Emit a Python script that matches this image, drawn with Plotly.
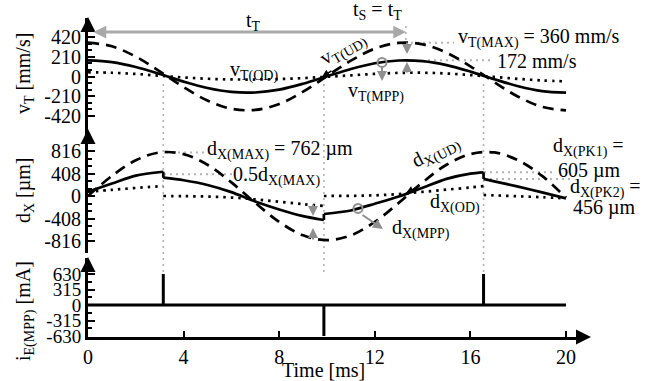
import plotly.graph_objects as go

# ---------------- data ----------------
t_v = list(range(0, 21))                      # ms
vT_UD = [360, 321, 211, 55, -113, -256, -343, -355, -292, -161, 4, 168, 296, 357, 342, 253, 108, -60, -215, -323, -360]
vT_MPP = [172, 153, 101, 26, -54, -122, -164, -170, -140, -77, 2, 80, 141, 170, 163, 121, 52, -29, -103, -155, -172]
vT_OD = [45, 40, 27, 8, -10, -24, -31, -32, -27, -17, -3, 12, 28, 38, 40, 32, 15, -5, -25, -42, -52]

t_dx = list(range(0, 21))
dX_UD = [0, 364, 647, 790, 760, 566, 247, -125, -470, -713, -800, -713, -470, -125, 247, 566, 760, 790, 647, 364, -30]

t_sw = [3.15, 9.87, 16.55]                    # switching instants (ms)
iE_peak = [630, -630, 630]                    # mA

t_seg_A = [0, 1, 2, 3.15]
dX_MPP_A = [78, 225, 370, 440]
dX_OD_A = [78, 112, 146, 181]
t_seg_B = [3.15, 4, 5, 6, 7, 8, 9, 9.87]
dX_MPP_B = [332, 285, 200, 70, -100, -245, -365, -435]
dX_OD_B = [0, -3, -10, -28, -62, -105, -148, -180]
t_seg_C = [9.87, 11, 12, 13, 14, 15, 16, 16.55]
dX_MPP_C = [-326, -262, -140, -10, 150, 310, 405, 430]
dX_OD_C = [0, 3, 12, 35, 75, 115, 155, 178]
t_seg_D = [16.55, 17, 18, 19, 20]
dX_MPP_D = [310, 265, 170, 65, -42]
dX_OD_D = [18, 12, -5, -22, -42]

vT_ticks = [-420, -210, 0, 210, 420]
dX_ticks = [-816, -408, 0, 408, 816]
iE_ticks = [-630, -315, 0, 315, 630]
t_ticks = [0, 4, 8, 12, 16, 20]
tS = 13.3

# ---------------- layout helpers ----------------
W, H = 662, 381
FONT = "Liberation Serif"
X0, XPX = 88, 23.9          # pixel of t=0, pixels per ms


def fx(px):
    return px / W


def fy(py):
    return 1 - py / H


def v_of(p):   # panel 1 pixel -> value
    return (76.5 - p) * 420 / 39.5


def d_of(p):   # panel 2 pixel -> value
    return (196 - p) * 816 / 45


def i_of(p):   # panel 3 pixel -> value
    return (305 - p) * 630 / 31


def t_of(px):
    return (px - X0) / XPX


def join(segs):
    xs, ys = [], []
    for tx, ty in segs:
        xs += list(tx) + [None]
        ys += list(ty) + [None]
    return xs, ys


fig = go.Figure()
BLK = "black"
LW = 2.7
DASH = "11px,7px"
DOT = "2.5px,5px"

# panel 1
fig.add_trace(go.Scatter(x=t_v, y=vT_UD, mode="lines", line=dict(color=BLK, width=LW, dash=DASH, shape="spline"), xaxis="x", yaxis="y"))
fig.add_trace(go.Scatter(x=t_v, y=vT_OD, mode="lines", line=dict(color=BLK, width=LW, dash=DOT, shape="spline"), xaxis="x", yaxis="y"))
fig.add_trace(go.Scatter(x=t_v, y=vT_MPP, mode="lines", line=dict(color=BLK, width=LW, shape="spline"), xaxis="x", yaxis="y"))

# panel 2
fig.add_trace(go.Scatter(x=t_dx, y=dX_UD, mode="lines", line=dict(color=BLK, width=LW, dash=DASH, shape="spline"), xaxis="x2", yaxis="y2"))
ox, oy = join([(t_seg_A, dX_OD_A), (t_seg_B, dX_OD_B), (t_seg_C, dX_OD_C), (t_seg_D, dX_OD_D)])
fig.add_trace(go.Scatter(x=ox, y=oy, mode="lines", line=dict(color=BLK, width=LW, dash=DOT, shape="spline"), connectgaps=False, xaxis="x2", yaxis="y2"))
mx, my = join([(t_seg_A, dX_MPP_A), (t_seg_B, dX_MPP_B), (t_seg_C, dX_MPP_C), (t_seg_D, dX_MPP_D)])
fig.add_trace(go.Scatter(x=mx, y=my, mode="lines", line=dict(color=BLK, width=LW, shape="spline", smoothing=0.8), connectgaps=False, xaxis="x2", yaxis="y2"))
segs_mpp = [dX_MPP_A, dX_MPP_B, dX_MPP_C, dX_MPP_D]
cx, cy = [], []
for k, ts in enumerate(t_sw):
    cx += [ts, ts, None]
    cy += [segs_mpp[k][-1], segs_mpp[k + 1][0], None]
fig.add_trace(go.Scatter(x=cx, y=cy, mode="lines", line=dict(color=BLK, width=LW), xaxis="x2", yaxis="y2"))

# panel 3
ix, iy = [0], [0]
for ts, pk in zip(t_sw, iE_peak):
    ix += [ts, ts, ts]
    iy += [0, pk, 0]
ix.append(20)
iy.append(0)
fig.add_trace(go.Scatter(x=ix, y=iy, mode="lines", line=dict(color=BLK, width=3), xaxis="x3", yaxis="y3"))


# circle markers on the MPP curves
def interp(x, xs, ys):
    for a in range(len(xs) - 1):
        if xs[a] <= x <= xs[a + 1]:
            f = (x - xs[a]) / (xs[a + 1] - xs[a])
            return ys[a] + f * (ys[a + 1] - ys[a])
    return ys[-1]


GRAY = "#8f8f8f"
tc1 = t_of(382)
fig.add_trace(go.Scatter(x=[tc1], y=[interp(tc1, t_v, vT_MPP)], mode="markers",
                         marker=dict(size=9, color="rgba(0,0,0,0)", line=dict(color=GRAY, width=2)), xaxis="x", yaxis="y"))
tc2 = t_of(358)
fig.add_trace(go.Scatter(x=[tc2], y=[interp(tc2, t_seg_C, dX_MPP_C)], mode="markers",
                         marker=dict(size=9, color="rgba(0,0,0,0)", line=dict(color=GRAY, width=2)), xaxis="x2", yaxis="y2"))

xr = [0, t_of(582)]
xdom = [fx(X0), fx(582)]
tickfont = dict(family=FONT, size=20, color=BLK)


def yax(dom, rng, ticks, minor):
    return dict(domain=dom, range=rng, tickvals=ticks, ticktext=[str(v) for v in ticks], showline=True,
                linecolor=BLK, linewidth=3, ticks="inside", ticklen=7, tickwidth=2, tickcolor=BLK,
                showgrid=False, zeroline=False, tickfont=tickfont, automargin=False,
                minor=dict(tickvals=minor, ticks="inside", ticklen=4, tickwidth=1.5, tickcolor=BLK))


mv = [v for v in range(-350, 351, 70) if v % 210 != 0]
md = [v for v in range(-680, 681, 136) if v % 408 != 0]
mi = [-472.5, -157.5, 157.5, 472.5]

y1 = yax([fy(130), fy(18)], [v_of(130), v_of(18)], vT_ticks, mv)
y1["anchor"] = "x"
y2 = yax([fy(253), fy(130)], [d_of(253), d_of(130)], dX_ticks, md)
y2["anchor"] = "x2"
y3 = yax([fy(337), fy(258)], [i_of(337), i_of(258)], iE_ticks, mi)
y3["anchor"] = "x3"
y3["tickfont"] = dict(family=FONT, size=19, color=BLK)

hidden_x = dict(domain=xdom, range=xr, visible=False, showgrid=False, zeroline=False)
fig.update_layout(
    width=W, height=H, template="none", showlegend=False,
    margin=dict(l=0, r=0, t=0, b=0, pad=0),
    paper_bgcolor="white", plot_bgcolor="rgba(0,0,0,0)",
    font=dict(family=FONT, size=20, color=BLK),
    xaxis=dict(hidden_x, anchor="y"),
    xaxis2=dict(hidden_x, anchor="y2", matches="x"),
    xaxis3=dict(domain=xdom, range=xr, anchor="y3", matches="x", showline=True, linecolor=BLK, linewidth=3,
                ticks="inside", ticklen=6, tickwidth=2, tickcolor=BLK, tickvals=t_ticks,
                ticktext=[str(v) for v in t_ticks], tickfont=tickfont, showgrid=False, zeroline=False,
                automargin=False),
    yaxis=y1, yaxis2=y2, yaxis3=y3,
)

# ---------------- decorations ----------------
LG = "#b3b3b3"
shapes = []
for ts in t_sw:
    shapes.append(dict(type="line", xref="x", yref="paper", x0=ts, x1=ts, y0=fy(272), y1=fy(80),
                       line=dict(color=LG, width=1.6, dash="2px,4px"), layer="below"))
shapes.append(dict(type="line", xref="x", yref="paper", x0=tS, x1=tS, y0=fy(46), y1=fy(26),
                   line=dict(color=LG, width=1.6, dash="2px,4px"), layer="below"))


def hline(yref, yv, px0, px1):
    return dict(type="line", xref="x", yref=yref, x0=t_of(px0), x1=t_of(px1), y0=yv, y1=yv,
                line=dict(color=LG, width=2, dash="2px,4px"), layer="below")


shapes += [
    hline("y", max(vT_UD), 411, 454),
    hline("y", max(vT_MPP), 428, 492),
    hline("y2", max(dX_UD), 166, 204),
    hline("y2", max(dX_UD) / 2, 164, 232),
    hline("y2", dX_MPP_C[-1], 484, 553),
    hline("y2", dX_MPP_D[0], 484, 570),
]
fig.update_layout(shapes=shapes)

ann = []


def txt(s, px, py, anchor="left", size=20, angle=0):
    ann.append(dict(text=s, x=fx(px), y=fy(py), xref="paper", yref="paper", xanchor=anchor, yanchor="middle",
                    showarrow=False, font=dict(size=size, color=BLK, family=FONT), textangle=angle))


def arr(x0, y0, x1, y1, color=GRAY, width=2, head=2, size=1.0, side="end"):
    ann.append(dict(text="", x=fx(x1), y=fy(y1), xref="paper", yref="paper", ax=x0 - x1, ay=y0 - y1,
                    axref="pixel", ayref="pixel", showarrow=True, arrowhead=head, startarrowhead=head,
                    arrowsize=size, startarrowsize=size, arrowwidth=width, arrowcolor=color,
                    arrowside=side, standoff=0, startstandoff=0))


# axis arrowheads
arr(88, 30, 88, 17, color=BLK, width=3, head=2, size=1.0)
arr(88, 142, 88, 129, color=BLK, width=3, head=2, size=1.0)
arr(88, 270, 88, 257, color=BLK, width=3, head=2, size=1.0)
arr(575, 337, 591, 337, color=BLK, width=3, head=2, size=1.0)

# t_T arrow
arr(92, 32, 406, 32, color="#a9a9a9", width=3, head=2, size=0.85, side="end+start")
txt("t<sub>T</sub>", 253, 21, anchor="center")
txt("t<sub>S</sub> = t<sub>T</sub>", 377, 11, anchor="center")

# panel 1 labels
txt("v<sub>T(MAX)</sub> = 360 mm/s", 456, 38)
txt("172 mm/s", 495, 61)
txt("v<sub>T(OD)</sub>", 228, 71)
txt("v<sub>T(UD)</sub>", 343, 49, anchor="center", angle=-30)
txt("v<sub>T(MPP)</sub>", 346, 92)
arr(407, 41, 407, 54)
arr(407, 74, 407, 62)
arr(382, 66, 382, 81)
arr(333, 70, 322, 77, color=BLK, width=1.5, head=2, size=1.0)

# panel 2 labels
txt("d<sub>X(MAX)</sub> = 762 µm", 205, 150)
txt("0.5d<sub>X(MAX)</sub>", 231, 176)
txt("d<sub>X(UD)</sub>", 436, 152, anchor="center", angle=-27)
txt("d<sub>X(OD)</sub>", 428, 203)
txt("d<sub>X(MPP)</sub>", 390, 229)
txt("d<sub>X(PK1)</sub> =", 551, 147)
txt("605 µm", 556, 170)
txt("d<sub>X(PK2)</sub> =", 568, 188)
txt("456 µm", 571, 207)
arr(313, 203, 313, 216)
arr(313, 241, 313, 228)
arr(361, 214, 383, 229)
arr(418, 187, 406, 193, color=BLK, width=1.5, head=2, size=1.0)

# axis titles
txt("v<sub>T</sub> [mm/s]", 24, 74, anchor="center", angle=-90)
txt("d<sub>X</sub> [µm]", 24, 190, anchor="center", angle=-90)
txt("i<sub>E(MPP)</sub> [mA]", 25, 311, anchor="center", angle=-90)
txt("Time [ms]", 323, 370, anchor="center")

fig.update_layout(annotations=ann)
fig.write_html("out.html", config={"displayModeBar": False},
               post_script="document.body.style.margin='0px';document.body.style.overflow='hidden';")
